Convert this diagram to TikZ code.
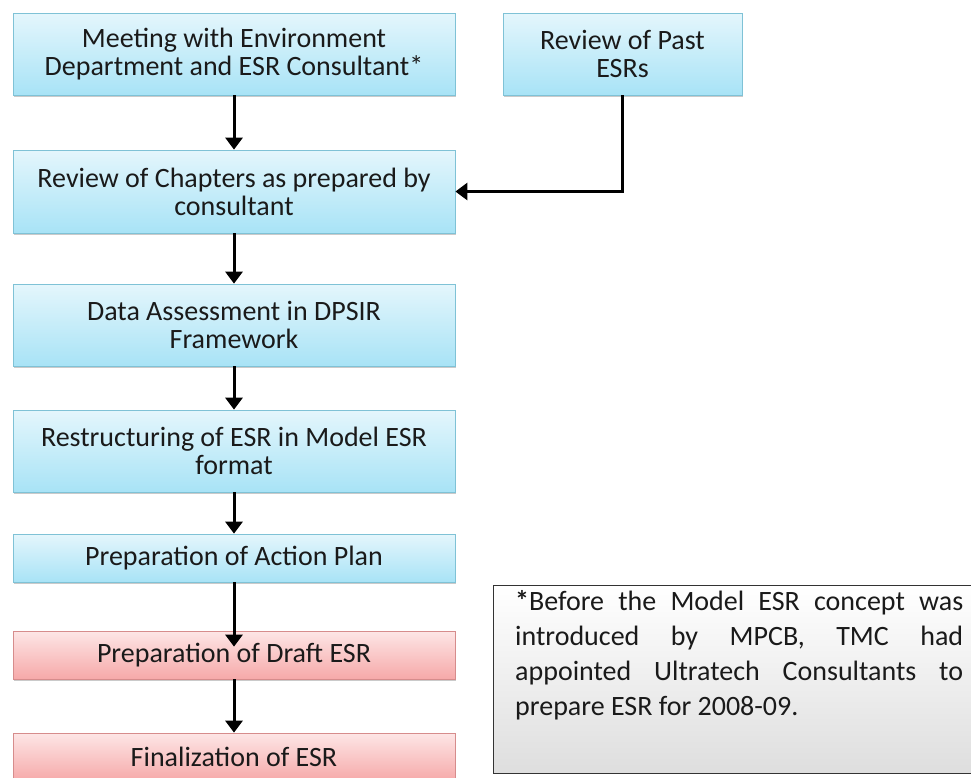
\documentclass[tikz,border=0pt]{standalone}
\usepackage{fontspec}
\setmainfont{Carlito}
\usetikzlibrary{arrows.meta,shadows}
\definecolor{bluetop}{HTML}{E4F6FC}
\definecolor{bluebot}{HTML}{A8E3F6}
\definecolor{blueline}{HTML}{7FC2D6}
\definecolor{redtop}{HTML}{FDE6E6}
\definecolor{redbot}{HTML}{F6A9A9}
\definecolor{redline}{HTML}{D68C8C}
\definecolor{txt}{HTML}{1A1A1A}
\tikzset{
  base/.style={rectangle, minimum width=442pt, inner sep=0pt, align=center,
    font=\fontsize{28}{28}\selectfont, text=txt, line width=0.8pt,
    drop shadow={shadow xshift=1.2pt, shadow yshift=-2pt, opacity=0.35, fill=black!60}},
  bluebox/.style={base, draw=blueline, top color=bluetop, bottom color=bluebot},
  redbox/.style={base, draw=redline, top color=redtop, bottom color=redbot},
  arr/.style={line width=3pt, -{Triangle[width=17pt,length=12pt]}},
}
\begin{document}
\begin{tikzpicture}[x=1pt,y=-1pt]
\useasboundingbox (0,0) rectangle (971,777);
\begin{scope}
\clip (0,0) rectangle (971,777);
\node[bluebox, minimum height=82pt] (m1) at (234,54) {Meeting with Environment\\Department and ESR Consultant*};
\node[bluebox, minimum width=239pt, minimum height=82pt] (p) at (622.5,54) {Review of Past\\ESRs};
\node[bluebox, minimum height=83pt] (r) at (234,191.5) {Review of Chapters as prepared by\\consultant};
\node[bluebox, minimum height=82pt] (d) at (234,325) {Data Assessment in DPSIR\\Framework};
\node[bluebox, minimum height=82pt] (s) at (234,451) {Restructuring of ESR in Model ESR\\format};
\node[bluebox, minimum height=48pt] (a) at (234,558) {Preparation of Action Plan};
\node[redbox, minimum height=48pt] (dr) at (234,655) {Preparation of Draft ESR};
\node[redbox, minimum height=48pt] (f) at (234,757) {Finalization of ESR};

\node[rectangle, draw=black!80, line width=1.3pt, top color=white, bottom color=black!13,
  minimum width=485pt, minimum height=188pt, inner sep=0pt, anchor=north west] (note) at (493,585) {};
\node[anchor=north west, text width=448pt, align=justify, inner sep=0pt,
  font=\fontsize{28}{35}\selectfont, text=txt] (nt) at (515,590)
  {\textbf{*}Before the Model ESR concept was\linebreak introduced by MPCB, TMC had\linebreak appointed Ultratech Consultants to\linebreak prepare ESR for 2008-09.};

\draw[arr] (m1) -- (r);
\draw[arr] (p.south) |- (r.east);
\draw[arr] (r) -- (d);
\draw[arr] (d) -- (s);
\draw[arr] (s) -- (a);
\draw[arr] (a.south) -- ([yshift=-16pt]dr.north);
\draw[arr] (dr) -- (f);
\end{scope}
\end{tikzpicture}
\end{document}
